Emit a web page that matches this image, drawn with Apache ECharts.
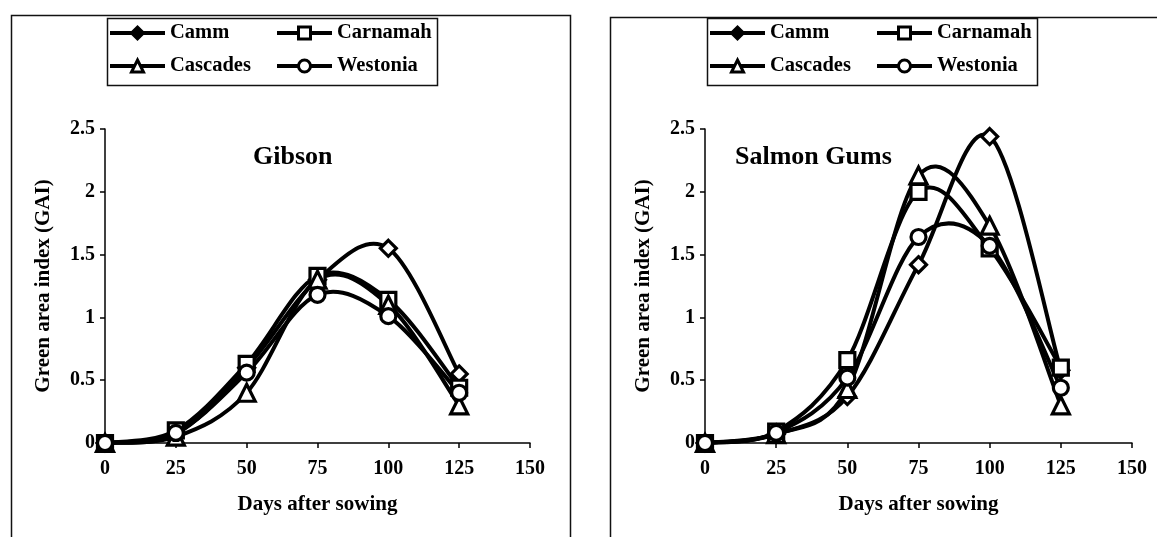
<!DOCTYPE html>
<html><head><meta charset="utf-8">
<script src="https://cdn.jsdelivr.net/npm/echarts@6/dist/echarts.min.js"></script>
<style>html,body{margin:0;padding:0;background:#fff}#c{width:1157px;height:537px}</style>
</head><body><div id="c"></div>
<script>
// ---- data ----
const days = [0, 25, 50, 75, 100, 125];
const varieties = ['Camm', 'Carnamah', 'Cascades', 'Westonia'];
const sites = ['Gibson', 'Salmon Gums'];
const gibsonCamm     = [0, 0.07, 0.60, 1.30, 1.55, 0.55];
const gibsonCarnamah = [0, 0.10, 0.63, 1.33, 1.14, 0.44];
const gibsonCascades = [0, 0.05, 0.40, 1.30, 1.10, 0.30];
const gibsonWestonia = [0, 0.08, 0.56, 1.18, 1.01, 0.40];
const salmonCamm     = [0, 0.07, 0.37, 1.42, 2.44, 0.58];
const salmonCarnamah = [0, 0.09, 0.66, 2.00, 1.55, 0.60];
const salmonCascades = [0, 0.07, 0.43, 2.13, 1.73, 0.30];
const salmonWestonia = [0, 0.08, 0.52, 1.64, 1.57, 0.44];
const xTickMin = 0, xTickMax = 150, xTickStep = 25;
const yTickMin = 0, yTickMax = 2.5, yTickStep = 0.5;
const xAxisTitle = 'Days after sowing';
const yAxisTitle = 'Green area index (GAI)';

const siteData = [
  [gibsonCamm, gibsonCarnamah, gibsonCascades, gibsonWestonia],
  [salmonCamm, salmonCarnamah, salmonCascades, salmonWestonia]
];
const symbols = ['diamond', 'rect', 'triangle', 'circle'];
const FONT = '"Liberation Serif", "Times New Roman", serif';

const grids = [
  { left: 105, top: 129, width: 425, height: 314 },
  { left: 705, top: 129, width: 427, height: 314 }
];
const frameX = [9, 608];

const xAxes = grids.map((g, i) => ({
  gridIndex: i, type: 'value', min: xTickMin, max: xTickMax, interval: xTickStep,
  name: xAxisTitle, nameLocation: 'middle', nameGap: 51,
  nameTextStyle: { fontFamily: FONT, fontWeight: 'bold', fontSize: 21, color: '#000' },
  axisLine: { lineStyle: { color: '#000', width: 1.5 } },
  axisTick: { show: true, inside: false, length: 5, lineStyle: { color: '#000', width: 1.5 } },
  axisLabel: { fontFamily: FONT, fontWeight: 'bold', fontSize: 20, color: '#000', margin: 16 },
  splitLine: { show: false }
}));
const yAxes = grids.map((g, i) => ({
  gridIndex: i, type: 'value', min: yTickMin, max: yTickMax, interval: yTickStep,
  name: yAxisTitle, nameLocation: 'middle', nameGap: 51,
  nameTextStyle: { fontFamily: FONT, fontWeight: 'bold', fontSize: 21, color: '#000' },
  axisLine: { show: true, lineStyle: { color: '#000', width: 1.5 } },
  axisTick: { show: true, inside: false, length: 5, lineStyle: { color: '#000', width: 1.5 } },
  axisLabel: { fontFamily: FONT, fontWeight: 'bold', fontSize: 20, color: '#000', margin: 10 },
  splitLine: { show: false }
}));

// smooth curve through the data points (Catmull-Rom style, as in spreadsheet "smoothed line")
function curveRenderer(vals) {
  return function (params, api) {
    if (params.dataIndex !== 0) return null;
    const P = days.map((d, k) => api.coord([d, vals[k]]));
    const n = P.length;
    let path = 'M' + P[0][0] + ' ' + P[0][1];
    for (let i = 0; i < n - 1; i++) {
      const p0 = P[Math.max(i - 1, 0)], p1 = P[i], p2 = P[i + 1], p3 = P[Math.min(i + 2, n - 1)];
      const c1x = p1[0] + (p2[0] - p0[0]) / 6, c1y = p1[1] + (p2[1] - p0[1]) / 6;
      const c2x = p2[0] - (p3[0] - p1[0]) / 6, c2y = p2[1] - (p3[1] - p1[1]) / 6;
      path += ' C' + c1x + ' ' + c1y + ' ' + c2x + ' ' + c2y + ' ' + p2[0] + ' ' + p2[1];
    }
    return {
      type: 'path', shape: { pathData: path },
      style: { stroke: '#000', lineWidth: 4, fill: 'none', lineJoin: 'round', lineCap: 'round' }
    };
  };
}

const series = [];
siteData.forEach((arrs, gi) => {
  arrs.forEach((vals, vi) => {
    const data = days.map((d, k) => [d, vals[k]]);
    series.push({
      type: 'custom', name: varieties[vi] + ' curve ' + gi, coordinateSystem: 'cartesian2d',
      xAxisIndex: gi, yAxisIndex: gi, data: data, encode: { x: 0, y: 1 },
      renderItem: curveRenderer(vals), z: 1, silent: true, animation: false
    });
  });
});
siteData.forEach((arrs, gi) => {
  arrs.forEach((vals, vi) => {
    series.push({
      type: 'line', name: varieties[vi], xAxisIndex: gi, yAxisIndex: gi,
      data: days.map((d, k) => [d, vals[k]]),
      symbol: symbols[vi],
      symbolSize: vi === 2 ? 17 : (vi === 0 ? 16 : 15),
      itemStyle: { color: '#fff', borderColor: '#000', borderWidth: 3.2 },
      lineStyle: { color: '#000', width: 4, opacity: 0 },
      z: 3, emphasis: { disabled: true }, animation: false
    });
  });
});

const legends = [];
frameX.forEach((fx, gi) => {
  const bx = grids[gi].left;
  [[0, 2], [1, 3]].forEach((col, ci) => {
    legends.push({
      orient: 'vertical', left: bx + 3 + ci * 167, top: 22, padding: 0,
      itemWidth: 55, itemHeight: 15, itemGap: 11,
      data: col.map(k => (k === 0 ? { name: varieties[k], itemStyle: { color: '#000' } } : varieties[k])),
      selectedMode: false,
      lineStyle: { width: 4, color: '#000', opacity: 1 },
      itemStyle: { borderWidth: 3, borderColor: '#000' },
      textStyle: { fontFamily: FONT, fontWeight: 'bold', fontSize: 20.5, color: '#000', lineHeight: 22 }
    });
  });
});

const graphics = [];
frameX.forEach((fx, gi) => {
  graphics.push({ type: 'rect', left: fx, top: 13 + gi * 2, shape: { width: 559, height: 620 },
    style: { fill: 'none', stroke: '#111', lineWidth: 1.5 }, silent: true, z: -10 });
  graphics.push({ type: 'rect', left: grids[gi].left, top: 16, shape: { width: 330, height: 67 },
    style: { fill: 'none', stroke: '#111', lineWidth: 1.5 }, silent: true, z: -10 });
});

const titles = sites.map((s, gi) => ({
  text: s, left: gi === 0 ? 253 : 735, top: 144, padding: 0,
  textStyle: { fontFamily: FONT, fontWeight: 'bold', fontSize: 26, color: '#000' }
}));

const chart = echarts.init(document.getElementById('c'), null, { renderer: 'canvas' });
chart.setOption({
  animation: false,
  backgroundColor: '#fff',
  title: titles,
  grid: grids,
  xAxis: xAxes,
  yAxis: yAxes,
  legend: legends,
  graphic: graphics,
  series: series
});
</script></body></html>
